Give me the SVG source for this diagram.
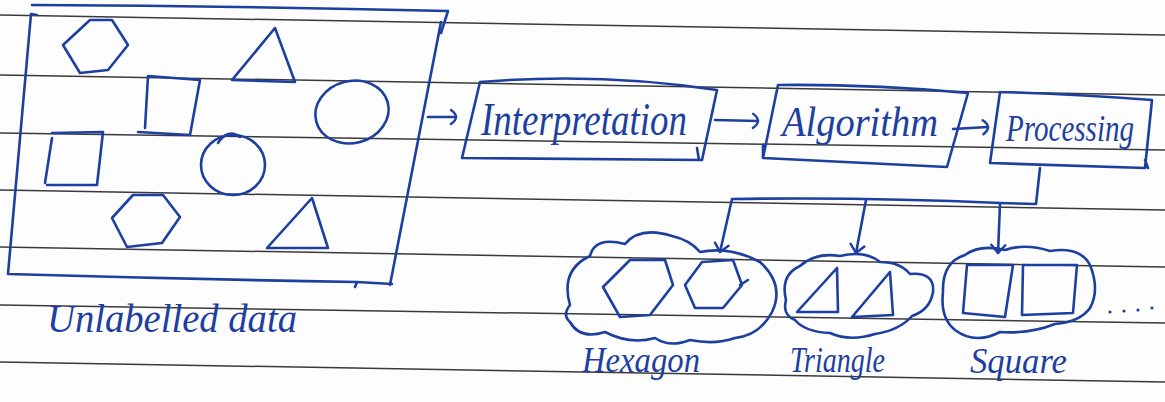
<svg xmlns="http://www.w3.org/2000/svg" width="1165" height="402" viewBox="0 0 1165 402">
<style>
.rule{stroke:#3a3a3a;stroke-width:1.5;fill:none}
.pen{stroke:#1d3f9f;stroke-width:2.6;fill:none;stroke-linejoin:round;stroke-linecap:round}
.hand{font-family:"Liberation Serif","DejaVu Serif",serif;font-style:italic;fill:#1d3f9f}
</style>
<defs>
<marker id="curl" viewBox="-2 -9 14 18" markerWidth="14" markerHeight="18" refX="6" refY="0" orient="auto" markerUnits="userSpaceOnUse">
<path d="M1,-7 Q 11,0 1,7" fill="none" stroke="#1d3f9f" stroke-width="2.4" stroke-linecap="round"/>
</marker>
<marker id="vee" viewBox="-10 -9 12 18" markerWidth="12" markerHeight="18" refX="0" refY="0" orient="auto" markerUnits="userSpaceOnUse">
<path d="M-8,-7 L0,0 L-8,7" fill="none" stroke="#1d3f9f" stroke-width="2.4" stroke-linecap="round" stroke-linejoin="round"/>
</marker>
</defs>
<rect width="1165" height="402" fill="#fdfdfd"/>
<g id="paper">
<line class="rule" x1="0" y1="15" x2="1165" y2="35"/>
<line class="rule" x1="0" y1="75" x2="1165" y2="95"/>
<line class="rule" x1="0" y1="133" x2="1165" y2="150"/>
<line class="rule" x1="0" y1="190" x2="1165" y2="210"/>
<line class="rule" x1="0" y1="247" x2="1165" y2="267"/>
<line class="rule" x1="0" y1="305" x2="1165" y2="323"/>
<line class="rule" x1="0" y1="362" x2="1165" y2="382"/>
</g>
<g id="unlabelled-data">
<path class="pen" d="M32,5 Q240,6 448,11 L441,33"/>
<path class="pen" d="M441,22 L390,285 M392,284 L357,282 L355,287 M357,282 Q180,279 8,274 L31,14 L37,15"/>
<polygon class="pen" points="63,45 90,20 112,20 128,45 108,70 80,73"/>
<polygon class="pen" points="275,28 232,80 295,82"/>
<path class="pen" d="M148,76 L200,80 L190,135 L138,132 M148,76 L145,128"/>
<ellipse class="pen" cx="352" cy="112" rx="37" ry="31" transform="rotate(-15 352 112)"/>
<path class="pen" d="M52,133 L103,132 L97,185 L47,185 M52,138 L45,183"/>
<ellipse class="pen" cx="233" cy="165" rx="32" ry="30"/>
<path class="pen" d="M218,143 Q228,128 240,137"/>
<polygon class="pen" points="112,218 133,195 163,195 180,217 162,243 127,247"/>
<polygon class="pen" points="312,198 267,248 328,248"/>
<text class="hand" x="47" y="332" font-size="40" textLength="250" lengthAdjust="spacingAndGlyphs">Unlabelled data</text>
</g>
<g id="interpretation">
<path class="pen" d="M480,82 Q600,72 717,90 L702,160 L462,158 L480,82 M697,148 L699,160"/>
<text class="hand" x="481" y="135" font-size="47" textLength="206" lengthAdjust="spacingAndGlyphs">Interpretation</text>
</g>
<g id="algorithm">
<path class="pen" d="M778,85 Q870,84 968,93 L947,167 L763,158 L778,85 M763,145 L763,158"/>
<text class="hand" x="782" y="136" font-size="43" textLength="156" lengthAdjust="spacingAndGlyphs">Algorithm</text>
</g>
<g id="processing">
<path class="pen" d="M1000,92 Q1075,94 1152,100 L1145,168 L990,163 L1000,92 M1145,160 L1148,168"/>
<text class="hand" x="1006" y="141" font-size="37" textLength="128" lengthAdjust="spacingAndGlyphs">Processing</text>
</g>
<g id="hexagon-cluster">
<path class="pen" d="M570,305 Q560,270 590,256 Q595,236 625,244 Q640,226 672,236 Q690,240 700,252 Q730,246 760,262 Q785,285 772,312 Q760,335 735,338 Q715,345 690,340 Q670,348 655,338 Q630,345 605,332 Q580,340 570,322 Q562,315 570,305 Z"/>
<polygon class="pen" points="603,287 630,260 665,260 673,285 650,315 620,317"/>
<polygon class="pen" points="685,285 702,262 733,260 742,285 723,308 695,308"/>
<path class="pen" d="M740,285 L748,280"/>
<text class="hand" x="582" y="372" font-size="36" textLength="118" lengthAdjust="spacingAndGlyphs">Hexagon</text>
</g>
<g id="triangle-cluster">
<path class="pen" d="M786,300 Q780,275 800,266 Q815,252 840,256 Q865,250 880,262 Q900,262 910,274 Q935,272 933,292 Q930,310 912,316 Q900,330 875,334 Q850,342 830,333 Q805,332 795,320 Q782,315 786,300 Z"/>
<polygon class="pen" points="837,268 838,312 797,312"/>
<polygon class="pen" points="890,272 893,315 852,317"/>
<text class="hand" x="790" y="372" font-size="36" textLength="95" lengthAdjust="spacingAndGlyphs">Triangle</text>
</g>
<g id="square-cluster">
<path class="pen" d="M943,292 Q942,262 965,255 Q980,244 1005,250 Q1025,243 1050,251 Q1080,246 1090,265 Q1100,290 1090,308 Q1080,322 1055,324 Q1030,334 1000,332 Q975,345 955,330 Q940,318 943,292 Z"/>
<polygon class="pen" points="967,265 1013,265 1005,317 963,313"/>
<polygon class="pen" points="1023,265 1077,265 1073,313 1022,315"/>
<g fill="#1d3f9f">
<circle cx="1110" cy="312" r="1.6"/>
<circle cx="1124" cy="311" r="1.6"/>
<circle cx="1138" cy="310" r="1.6"/>
<circle cx="1152" cy="308" r="1.6"/>
</g>
<text class="hand" x="970" y="373" font-size="36" textLength="97" lengthAdjust="spacingAndGlyphs">Square</text>
</g>
<g id="connectors">
<path class="pen" d="M428,117 L456,117" marker-end="url(#curl)"/>
<path class="pen" d="M715,120 L758,121" marker-end="url(#curl)"/>
<path class="pen" d="M953,129 L988,127" marker-end="url(#curl)"/>
<path class="pen" d="M1040,168 L1036,204 L1000,203 Q870,197 732,199 L720,252" marker-end="url(#vee)"/>
<path class="pen" d="M866,200 L856,253" marker-end="url(#vee)"/>
<path class="pen" d="M1000,204 L998,253" marker-end="url(#vee)"/>
</g>
</svg>
